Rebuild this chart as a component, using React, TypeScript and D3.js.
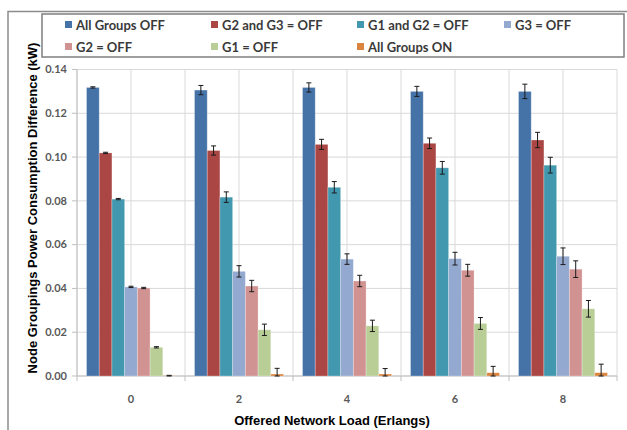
import React from "react";
import * as d3 from "d3";

const categories = ["0", "2", "4", "6", "8"];
const seriesNames = [
  "All Groups OFF",
  "G2 and G3 = OFF",
  "G1 and G2 = OFF",
  "G3 = OFF",
  "G2 = OFF",
  "G1 = OFF",
  "All Groups ON",
];
const seriesColors = ["#4572A7", "#AA4643", "#4198AF", "#93A9CF", "#D19392", "#B9CD96", "#DB843D"];

const allOff = [0.1318, 0.1306, 0.1318, 0.13, 0.13];
const g23Off = [0.1019, 0.103, 0.1058, 0.1063, 0.1078];
const g12Off = [0.0808, 0.0817, 0.0862, 0.0951, 0.0963];
const g3Off = [0.0407, 0.0478, 0.0534, 0.0536, 0.0547];
const g2Off = [0.0402, 0.0411, 0.0434, 0.0483, 0.0488];
const g1Off = [0.0131, 0.0211, 0.0229, 0.024, 0.0307];
const allOn = [0.0001, 0.0009, 0.0009, 0.0015, 0.0015];

const allOffErr = [0.0003, 0.0021, 0.0021, 0.0023, 0.0033];
const g23OffErr = [0.0003, 0.0021, 0.0023, 0.0024, 0.0035];
const g12OffErr = [0.0003, 0.0024, 0.0026, 0.0029, 0.0036];
const g3OffErr = [0.0003, 0.0026, 0.0024, 0.0029, 0.0038];
const g2OffErr = [0.0003, 0.0026, 0.0026, 0.0027, 0.0038];
const g1OffErr = [0.0003, 0.0026, 0.0026, 0.0027, 0.0038];
const allOnErr = [0.0002, 0.0026, 0.0025, 0.0029, 0.0039];

const yTicks = [0, 0.02, 0.04, 0.06, 0.08, 0.1, 0.12, 0.14];

const values = [allOff, g23Off, g12Off, g3Off, g2Off, g1Off, allOn];
const errors = [allOffErr, g23OffErr, g12OffErr, g3OffErr, g2OffErr, g1OffErr, allOnErr];

const W = 627;
const H = 430;
const left = 77;
const right = 617;
const top = 69.5;
const bottom = 376;

export default function App() {
  const x0 = d3
    .scaleBand<string>()
    .domain(categories)
    .range([left, right])
    .paddingInner(0.176)
    .paddingOuter(0.088);
  const x1 = d3
    .scaleBand<string>()
    .domain(seriesNames)
    .range([0, x0.bandwidth()]);
  const y = d3.scaleLinear().domain([0, 0.14]).range([bottom, top]);
  const step = x0.step();
  const vGrid = d3.range(0, categories.length * 2 + 1).map((i) => left + (i * step) / 2);
  const catTicks = d3.range(0, categories.length + 1).map((i) => left + i * step);

  const labelFont = "Lato, 'Open Sans', sans-serif";
  const titleFont = "'Liberation Sans', Arial, sans-serif";

  const legendCols = [65, 211, 357, 504];
  const legendRows = [25, 47];

  return (
    <svg width={W} height={H} style={{ position: "absolute", left: 0, top: 0, background: "#fff" }}>
      <rect x={0} y={0} width={W} height={H} fill="#fff" />
      {/* outer chart border */}
      <path d={`M8,${H} L8,11.5 L${W},11.5`} fill="none" stroke="#8c8c8c" strokeWidth={1.5} />
      {/* legend */}
      <rect x={42} y={14} width={582} height={43} fill="#fff" stroke="#7f7f7f" strokeWidth={1.5} />
      {seriesNames.map((name, i) => {
        const cx = legendCols[i % 4];
        const cy = legendRows[Math.floor(i / 4)];
        return (
          <g key={name}>
            <rect x={cx} y={cy - 4} width={7} height={7} fill={seriesColors[i]} />
            <text
              x={cx + 11}
              y={cy}
              dy="0.35em"
              fontFamily={labelFont}
              fontWeight={700}
              fontSize={13}
              fill="#3a3a3a"
            >
              {name}
            </text>
          </g>
        );
      })}
      {/* gridlines */}
      {yTicks.map((t) => (
        <line key={"h" + t} x1={left} x2={right} y1={y(t)} y2={y(t)} stroke="#d9d9d9" strokeWidth={1} />
      ))}
      {vGrid.map((gx, i) => (
        <line key={"v" + i} x1={gx} x2={gx} y1={top} y2={bottom} stroke="#d9d9d9" strokeWidth={1} />
      ))}
      {/* axes */}
      <line x1={left} x2={left} y1={top} y2={bottom} stroke="#bfbfbf" />
      <line x1={left} x2={right} y1={bottom} y2={bottom} stroke="#bfbfbf" />
      {yTicks.map((t) => (
        <g key={"yt" + t}>
          <line x1={left - 5} x2={left} y1={y(t)} y2={y(t)} stroke="#bfbfbf" />
          <text
            x={left - 10}
            y={y(t)}
            dy="0.35em"
            textAnchor="end"
            fontFamily={labelFont}
            fontWeight={700}
            fontSize={11}
            fill="#595959"
          >
            {t.toFixed(2)}
          </text>
        </g>
      ))}
      {catTicks.map((tx, i) => (
        <line key={"xt" + i} x1={tx} x2={tx} y1={bottom} y2={bottom + 5} stroke="#bfbfbf" />
      ))}
      {categories.map((c) => (
        <text
          key={"xl" + c}
          x={(x0(c) as number) + x0.bandwidth() / 2}
          y={399}
          dy="0.35em"
          textAnchor="middle"
          fontFamily={labelFont}
          fontWeight={700}
          fontSize={11}
          fill="#595959"
        >
          {c}
        </text>
      ))}
      {/* bars */}
      {seriesNames.map((name, si) => (
        <g key={"s" + si}>
          {categories.map((c, ci) => {
            const v = values[si][ci];
            const bx = (x0(c) as number) + (x1(name) as number);
            const bw = x1.bandwidth();
            return (
              <rect
                key={c}
                x={bx}
                y={y(v)}
                width={bw}
                height={bottom - y(v)}
                fill={seriesColors[si]}
                stroke="#ffffff"
                strokeOpacity={0.35}
                strokeWidth={0.8}
              />
            );
          })}
        </g>
      ))}
      {/* error bars */}
      {seriesNames.map((name, si) => (
        <g key={"e" + si} stroke="#1a1a1a" strokeWidth={1}>
          {categories.map((c, ci) => {
            const v = values[si][ci];
            const e = errors[si][ci];
            const cx = (x0(c) as number) + (x1(name) as number) + x1.bandwidth() / 2;
            const y1 = y(v + e);
            const y2 = y(Math.max(0, v - e));
            return (
              <g key={c}>
                <line x1={cx} x2={cx} y1={y1} y2={y2} />
                <line x1={cx - 2.5} x2={cx + 2.5} y1={y1} y2={y1} />
                <line x1={cx - 2.5} x2={cx + 2.5} y1={y2} y2={y2} />
              </g>
            );
          })}
        </g>
      ))}
      {/* axis titles */}
      <text
        transform={`translate(37,208) rotate(-90)`}
        textAnchor="middle"
        fontFamily={titleFont}
        fontWeight={700}
        fontSize={13}
        fill="#000"
      >
        Node Groupings Power Consumption Difference (kW)
      </text>
      <text
        x={332}
        y={425}
        textAnchor="middle"
        fontFamily={titleFont}
        fontWeight={700}
        fontSize={13}
        fill="#000"
      >
        Offered Network Load (Erlangs)
      </text>
    </svg>
  );
}
